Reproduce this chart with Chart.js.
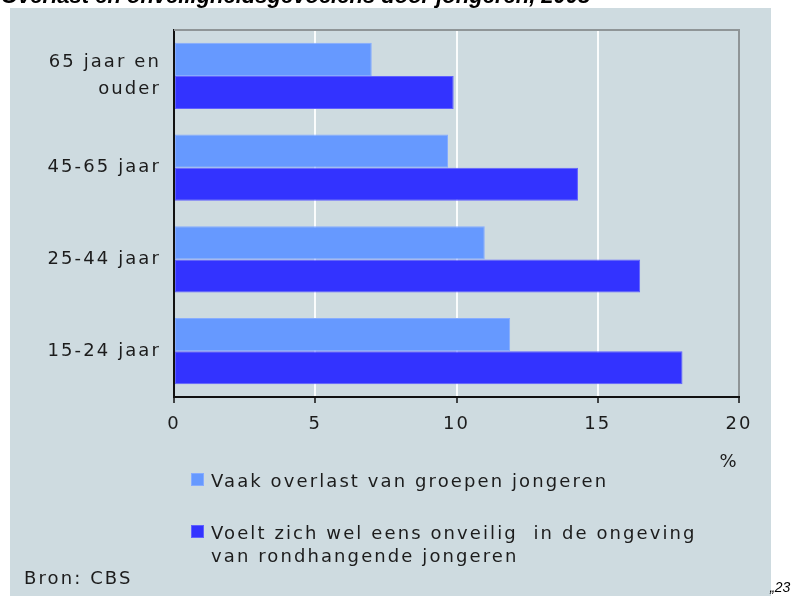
<!DOCTYPE html>
<html lang="nl">
<head>
  <meta charset="UTF-8">
  <title>Overlast en onveiligheidsgevoelens door jongeren, 2008</title>
  <script src="https://cdn.jsdelivr.net/npm/chart.js"></script>
  <style>
    html, body { margin: 0; padding: 0; background: #fff; }
    #wrap { position: relative; width: 792px; height: 596px; overflow: hidden; }
  </style>
</head>
<body>
  <div id="wrap">
    <canvas id="chart" width="792" height="596"></canvas>
  </div>

  <script>
    // categorieën (van boven naar beneden) en waarden in %
    const categories = [['65 jaar en', 'ouder'], '45-65 jaar', '25-44 jaar', '15-24 jaar'];
    const overlast = [7.0, 9.7, 11.0, 11.9];
    const onveilig = [9.9, 14.3, 16.5, 18.0];
    const xTicks = [0, 5, 10, 15, 20];

    const legendLines = [
      ['Vaak overlast van groepen jongeren'],
      ['Voelt zich wel eens onveilig  in de ongeving', 'van rondhangende jongeren']
    ];
    const titleText = 'Overlast en onveiligheidsgevoelens door jongeren, 2008';
    const sourceText = 'Bron: CBS';
    const unitText = '%';

    const panel = '#cedbe0';
    const font = 'DejaVu Sans';
    const spacing = '2.1px';

    // achtergrond, kader, legenda en losse teksten
    const extras = {
      id: 'extras',
      beforeDraw(chart) {
        const c = chart.ctx;
        c.save();
        c.fillStyle = '#fff';
        c.fillRect(0, 0, chart.width, chart.height);
        c.fillStyle = panel;
        c.fillRect(10, 8, 761, 588);
        c.restore();
        c.letterSpacing = spacing;
      },
      beforeDatasetsDraw(chart) {
        const c = chart.ctx;
        const a = chart.chartArea;
        c.save();
        c.strokeStyle = '#8f9597';
        c.lineWidth = 2;
        c.beginPath();
        c.moveTo(a.left, a.top);
        c.lineTo(a.right + 1, a.top);
        c.stroke();
        c.restore();
      },
      afterDraw(chart) {
        const c = chart.ctx;
        const a = chart.chartArea;
        c.save();
        c.letterSpacing = spacing;
        c.fillStyle = '#1c1c1c';
        c.font = '18px "' + font + '"';
        c.textBaseline = 'alphabetic';

        c.textAlign = 'center';
        c.fillText(unitText, a.right - 10, 467);

        // legenda
        c.textAlign = 'left';
        const tops = [473, 525];
        chart.data.datasets.forEach((ds, i) => {
          c.fillStyle = ds.borderColor;
          c.fillRect(191, tops[i], 13, 13);
          c.fillStyle = ds.backgroundColor;
          c.fillRect(192, tops[i] + 1, 11, 11);
          c.fillStyle = '#1c1c1c';
          legendLines[i].forEach((line, j) => {
            c.fillText(line, 211, tops[i] + 14 + j * 23);
          });
        });

        c.fillText(sourceText, 24, 584);

        // titel (grotendeels buiten beeld) en afgesneden tekst rechtsonder
        c.letterSpacing = '0px';
        c.fillStyle = '#000';
        c.font = 'italic bold 22px "Liberation Sans"';
        c.fillText(titleText, 1, 3);
        c.font = 'italic 14px "Liberation Sans"';
        c.fillText('\u201E23', 770, 592);
        c.restore();
      }
    };

    const ctx = document.getElementById('chart').getContext('2d');
    new Chart(ctx, {
      type: 'bar',
      data: {
        labels: categories,
        datasets: [{
          label: legendLines[0].join(' '),
          data: overlast,
          backgroundColor: '#6699ff',
          borderColor: '#86acff',
          borderWidth: 1,
          borderSkipped: false,
          categoryPercentage: 0.72,
          barPercentage: 1.0
        }, {
          label: legendLines[1].join(' '),
          data: onveilig,
          backgroundColor: '#3333ff',
          borderColor: '#6161ff',
          borderWidth: 1,
          borderSkipped: false,
          categoryPercentage: 0.72,
          barPercentage: 1.0
        }]
      },
      options: {
        indexAxis: 'y',
        responsive: false,
        animation: false,
        layout: { padding: { top: 30, right: 53, left: 0, bottom: 0 } },
        plugins: {
          legend: { display: false },
          tooltip: { enabled: false },
          title: { display: false }
        },
        scales: {
          x: {
            min: xTicks[0],
            max: xTicks[xTicks.length - 1],
            afterBuildTicks: s => { s.ticks = xTicks.map(v => ({ value: v })); },
            afterFit: s => { s.height = 199; },
            border: { display: true, color: '#111', width: 2 },
            grid: {
              color: c => c.tick.value === 0 ? 'rgba(0,0,0,0)' : (c.tick.value === 20 ? '#8f9597' : 'rgba(255,255,255,0.9)'),
              lineWidth: 2,
              tickLength: 6,
              tickColor: '#111',
              tickWidth: 1.5
            },
            ticks: {
              padding: 11,
              color: '#1c1c1c',
              font: { family: font, size: 18 }
            }
          },
          y: {
            afterFit: s => { s.width = 174; },
            border: { display: true, color: '#111', width: 2 },
            grid: { drawOnChartArea: false, drawTicks: false, color: 'rgba(0,0,0,0)' },
            ticks: {
              padding: 13,
              color: '#1c1c1c',
              font: { family: font, size: 18, lineHeight: 1.5 }
            }
          }
        }
      },
      plugins: [extras]
    });
  </script>
</body>
</html>
